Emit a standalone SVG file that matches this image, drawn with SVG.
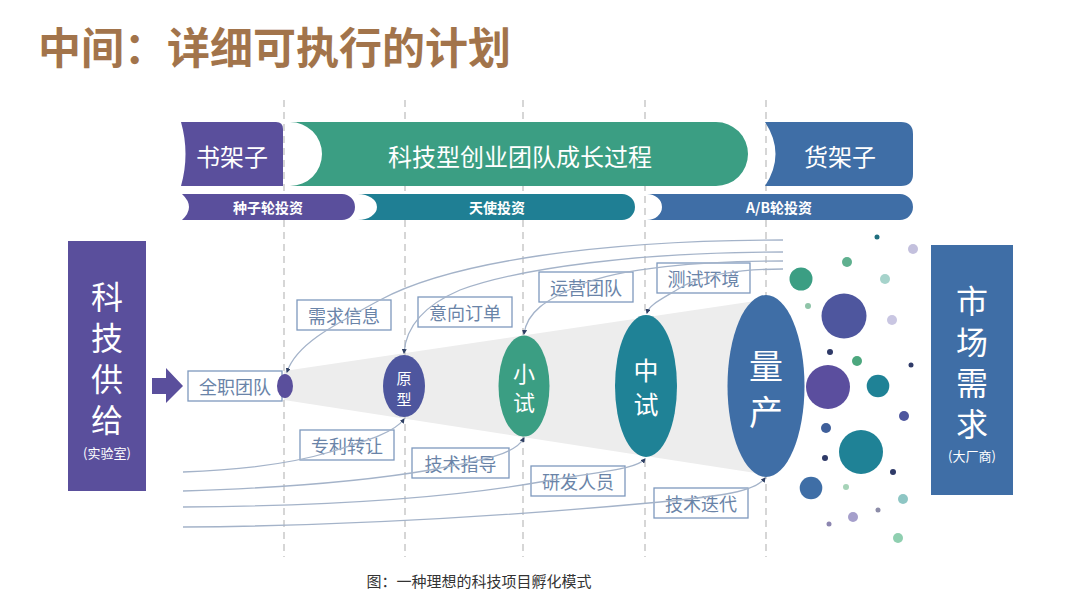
<svg xmlns="http://www.w3.org/2000/svg" width="1080" height="615" viewBox="0 0 1080 615">
<defs>
<style>
text{font-family:"Noto Sans CJK SC","Noto Sans",sans-serif;}
.title{font-size:43px;font-weight:bold;fill:#A2744B;}
.ban{font-size:24px;fill:#fff;text-anchor:middle;dominant-baseline:central;}
.ban2{font-size:14px;font-weight:bold;fill:#fff;text-anchor:middle;dominant-baseline:central;}
.side{font-size:32px;fill:#fff;writing-mode:vertical-rl;letter-spacing:9px;}
.sub{font-size:13px;fill:#fff;text-anchor:middle;dominant-baseline:central;}
.lbl rect{fill:#fff;stroke:#7E99BD;stroke-width:1.3;}
.lbl text{font-size:18px;fill:#6A84A8;text-anchor:middle;dominant-baseline:central;}
.ell{fill:#fff;text-anchor:middle;dominant-baseline:central;}
.dash{stroke:#C9C9C9;stroke-width:1.5;stroke-dasharray:7 5;fill:none;}
.con{fill:none;stroke:#A4B3C9;stroke-width:1.3;marker-end:url(#ah);}
.cap{font-size:15px;fill:#333;text-anchor:middle;dominant-baseline:central;}
</style>
<marker id="ah" viewBox="0 0 10 10" refX="8" refY="5" markerWidth="5" markerHeight="5" orient="auto" markerUnits="userSpaceOnUse">
<path d="M0,0 L10,5 L0,10 Z" fill="#2F3F63"/>
</marker>
</defs>
<rect width="1080" height="615" fill="#fff"/>
<text class="title" x="38" y="64">中间：详细可执行的计划</text>

<!-- funnel -->
<polygon points="284,371 762,300 762,474 284,400" fill="#EDEDED"/>

<!-- dashed guides -->
<g id="guides">
<line class="dash" x1="284" y1="100" x2="284" y2="557"/>
<line class="dash" x1="405" y1="100" x2="405" y2="557"/>
<line class="dash" x1="523" y1="100" x2="523" y2="557"/>
<line class="dash" x1="645" y1="100" x2="645" y2="557"/>
<line class="dash" x1="766" y1="100" x2="766" y2="557"/>
</g>

<!-- top banners -->
<g id="banner-shujiazi">
<path d="M181,122 L276,122 Q283,122 283,129 L283,186 L181,186 Q190,154 181,122 Z" fill="#5A4F9C"/>
<text class="ban" x="232" y="155">书架子</text>
</g>
<g id="banner-process">
<path d="M290,122 L716,122 A32 32 0 0 1 716,186 L290,186 A32 32 0 0 0 290,122 Z" fill="#3B9E83"/>
<text class="ban" x="520" y="155">科技型创业团队成长过程</text>
</g>
<g id="banner-huojiazi">
<path d="M765,122 L901,122 Q913,122 913,134 L913,174 Q913,186 901,186 L765,186 Q786,154 765,122 Z" fill="#3F6EA6"/>
<text class="ban" x="840" y="155">货架子</text>
</g>
<g id="banner-seed">
<path d="M182,194 L342,194 A13 13 0 0 1 342,220 L182,220 Q196,207 182,194 Z" fill="#5A4F9C"/>
<text class="ban2" x="268" y="207">种子轮投资</text>
</g>
<g id="banner-angel">
<path d="M358,194 L622,194 A13 13 0 0 1 622,220 L358,220 A19 13 0 0 0 358,194 Z" fill="#1F7F94"/>
<text class="ban2" x="497" y="207">天使投资</text>
</g>
<g id="banner-ab">
<path d="M647,194 L900,194 A13 13 0 0 1 900,220 L647,220 A15 13 0 0 0 647,194 Z" fill="#3F6EA6"/>
<text class="ban2" x="779" y="207">A/B轮投资</text>
</g>

<!-- left supply -->
<g id="supply">
<rect x="68" y="241" width="78" height="250" fill="#5A4F9C"/>
<text class="side" x="107" y="281">科技供给</text>
<text class="sub" x="107" y="452">(实验室)</text>
</g>
<g id="supply-arrow">
<polygon points="152,378 166,378 166,368 183,386 166,403 166,394 152,394" fill="#5A4F9C"/>
</g>

<!-- right market -->
<g id="market">
<rect x="931" y="245" width="82" height="250" fill="#3F6EA6"/>
<text class="side" x="972" y="285">市场需求</text>
<text class="sub" x="972" y="455">(大厂商)</text>
</g>

<!-- label boxes -->
<g id="lbl-quanzhi" class="lbl"><rect x="188" y="371" width="94" height="30"/><text x="235" y="386">全职团队</text></g>
<g id="lbl-xuqiu" class="lbl"><rect x="297" y="300" width="94" height="30"/><text x="344" y="315">需求信息</text></g>
<g id="lbl-yixiang" class="lbl"><rect x="418" y="297" width="94" height="30"/><text x="465" y="312">意向订单</text></g>
<g id="lbl-yunying" class="lbl"><rect x="539" y="272" width="94" height="30"/><text x="586" y="287">运营团队</text></g>
<g id="lbl-ceshi" class="lbl"><rect x="657" y="263" width="93" height="30"/><text x="703.5" y="278">测试环境</text></g>
<g id="lbl-zhuanli" class="lbl"><rect x="300" y="430" width="94" height="30"/><text x="347" y="445">专利转让</text></g>
<g id="lbl-zhidao" class="lbl"><rect x="412" y="448" width="97" height="30"/><text x="460.5" y="463">技术指导</text></g>
<g id="lbl-yanfa" class="lbl"><rect x="531" y="466" width="94" height="30"/><text x="578" y="481">研发人员</text></g>
<g id="lbl-diedai" class="lbl"><rect x="654" y="488" width="94" height="30"/><text x="701" y="503">技术迭代</text></g>

<!-- stage ellipses -->
<g id="stage-team"><ellipse cx="285" cy="386" rx="8" ry="12" fill="#5A4F9C"/></g>
<g id="stage-proto">
<ellipse cx="404" cy="386" rx="21" ry="31" fill="#4E569E"/>
<text class="ell" x="404" y="377" font-size="15">原</text>
<text class="ell" x="404" y="398" font-size="15">型</text>
</g>
<g id="stage-small">
<ellipse cx="524" cy="386" rx="25.5" ry="50.5" fill="#3B9E83"/>
<text class="ell" x="524" y="372" font-size="22">小</text>
<text class="ell" x="524" y="401" font-size="22">试</text>
</g>
<g id="stage-mid">
<ellipse cx="646" cy="386" rx="31" ry="71" fill="#1F8296"/>
<text class="ell" x="646" y="369" font-size="25">中</text>
<text class="ell" x="646" y="403" font-size="25">试</text>
</g>
<g id="stage-mass">
<ellipse cx="766" cy="386" rx="38.5" ry="91" fill="#3F6EA6"/>
<text class="ell" x="766" y="364" font-size="34">量</text>
<text class="ell" x="766" y="410" font-size="34">产</text>
</g>

<!-- connectors -->
<g id="connectors">
<path class="con" d="M783,240 C600,240 450,262 380,300 C330,327 296,345 287,372"/>
<path class="con" d="M783,252 C640,252 520,268 460,290 C425,305 406,325 404,353"/>
<path class="con" d="M783,261 C700,261 620,268 580,285 C545,300 527,312 524,334"/>
<path class="con" d="M783,269 C740,269 700,275 680,288 C660,300 649,305 647,313"/>
<path class="con" d="M183,472 C240,470 290,464 330,452 C370,440 395,432 404,419"/>
<path class="con" d="M183,491 C280,488 360,482 430,470 C480,461 515,455 524,438"/>
<path class="con" d="M183,507 C330,506 450,498 540,482 C600,471 635,470 645,459"/>
<path class="con" d="M183,527 C350,526 520,515 660,502 C720,496 755,492 765,478"/>
</g>

<!-- market bubbles -->
<g id="bubbles">
<circle cx="801" cy="279" r="11.5" fill="#3B9E83"/>
<circle cx="877" cy="237" r="2.5" fill="#1F6E7E"/>
<circle cx="913" cy="249" r="5" fill="#C3C0DD"/>
<circle cx="847" cy="262" r="5" fill="#5FB08F"/>
<circle cx="885" cy="279" r="5" fill="#A6D3CB"/>
<circle cx="808" cy="306" r="3" fill="#8FC4A8"/>
<circle cx="844" cy="316" r="22.5" fill="#4E569E"/>
<circle cx="892" cy="320" r="5" fill="#C9C6E2"/>
<circle cx="830" cy="352" r="3" fill="#2F3A68"/>
<circle cx="857" cy="361" r="5" fill="#4CA77E"/>
<circle cx="911" cy="365" r="2.5" fill="#2F3A68"/>
<circle cx="828" cy="387" r="22" fill="#5B4E9E"/>
<circle cx="878" cy="386" r="11.3" fill="#1F8296"/>
<circle cx="904" cy="416" r="5" fill="#4E569E"/>
<circle cx="826" cy="428" r="5" fill="#3F5F9A"/>
<circle cx="861" cy="452" r="22" fill="#1F8296"/>
<circle cx="825" cy="458" r="3" fill="#2F3A68"/>
<circle cx="893" cy="472" r="3" fill="#2F3A68"/>
<circle cx="811" cy="488" r="11.3" fill="#3F6EA6"/>
<circle cx="846" cy="487" r="3" fill="#A6D3B8"/>
<circle cx="903" cy="499" r="5" fill="#8EC6C4"/>
<circle cx="878" cy="510" r="2.5" fill="#8C8CA8"/>
<circle cx="853" cy="517" r="5" fill="#A59FCB"/>
<circle cx="829" cy="524" r="2.5" fill="#8C86B0"/>
<circle cx="898" cy="538" r="5" fill="#8FCFB0"/>
</g>

<text class="cap" x="479" y="580">图：一种理想的科技项目孵化模式</text>
</svg>
